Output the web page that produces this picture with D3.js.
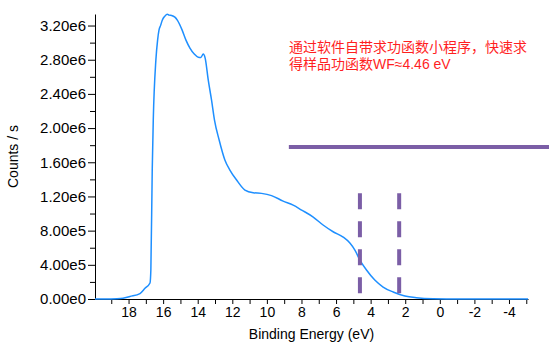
<!DOCTYPE html>
<html>
<head>
<meta charset="utf-8">
<script src="https://cdn.jsdelivr.net/npm/d3@7"></script>
<style>
  body { margin: 0; background: #fff; }
  svg { display: block; font-family: "Liberation Sans", Arial, sans-serif; }
  .axis path, .axis line { stroke: #000; stroke-width: 1; }
  .axis text { font-size: 14px; fill: #000; font-family: "Liberation Sans", Arial, sans-serif; }
  .yaxis text { font-size: 15px; }
  .note { font-size: 14px; fill: #ff1f1f; font-family: "Liberation Sans", "Noto Sans CJK SC", sans-serif; }
</style>
</head>
<body>
<svg width="549" height="345"></svg>
<script>
// spectrum: binding energy (eV) / counts per second
var energy = [19.94, 19.36, 18.67, 18.32, 17.92, 17.34, 17.05, 16.76, 16.71, 16.63,
  16.57, 16.42, 16.32, 16.24, 16.14, 16.05, 15.9, 15.76, 15.66, 15.51,
  15.32, 15.18, 14.9, 14.68, 14.45, 14.2, 13.97, 13.82, 13.68, 13.57,
  13.39, 13.2, 13.03, 12.76, 12.43, 12.14, 11.75, 11.27, 10.79, 10.31,
  9.73, 9.06, 8.48, 7.99, 7.32, 6.75, 6.17, 5.59, 5.2, 4.91,
  4.62, 4.24, 3.76, 3.28, 2.7, 2.02, 1.35, 0.39, -1.16, -5.1];
var counts = [0, 0, 2000, 8000, 29000, 64000, 125000, 187000, 339000, 1509000,
  2094000, 2795000, 3029000, 3146000, 3205000, 3263000, 3310000, 3333000, 3322000, 3318000,
  3298000, 3263000, 3146000, 3029000, 2936000, 2866000, 2830000, 2827000, 2866000, 2819000,
  2561000, 2327000, 2094000, 1860000, 1626000, 1509000, 1392000, 1275000, 1243000, 1236000,
  1210000, 1146000, 1099000, 1041000, 959000, 866000, 787000, 725000, 655000, 572000,
  456000, 339000, 222000, 140000, 82000, 35000, 15000, 3500, 0, 0];

// work-function markers
var baseLineX = [8.73, -6.4];
var baseLineY = 1.78e6;
var cutoffX = [4.62, 2.35];
var cutoffY = [1.236e6, 0.067e6];

var yTicks = [0, 4e5, 8e5, 1.2e6, 1.6e6, 2.0e6, 2.4e6, 2.8e6, 3.2e6];
var yMinor = d3.range(2e5, 3.3e6, 4e5);
var xTicks = [18, 16, 14, 12, 10, 8, 6, 4, 2, 0, -2, -4];
var xMinor = [19, 17, 15, 13, 11, 9, 7, 5, 3, 1, -1, -3, -5];

var noteLines = ["通过软件自带求功函数小程序，快速求", "得样品功函数WF≈4.46 eV"];

var svg = d3.select("svg");
var margin = {left: 95, right: 21, top: 14, bottom: 46};
var W = 549, H = 345;

var x = d3.scaleLinear().domain([19.94, -5.1]).range([margin.left, W - margin.right]);
var y = d3.scaleLinear().domain([0, 3.335e6]).range([H - margin.bottom, margin.top]);

var fmt = function(d) {
  if (d === 0) return "0.00e0";
  var e = Math.floor(Math.log10(d));
  return (d / Math.pow(10, e)).toFixed(2) + "e" + e;
};

// axes
svg.append("g").attr("class", "axis")
  .attr("transform", "translate(0," + y(0) + ")")
  .call(d3.axisBottom(x).tickValues(xTicks).tickSize(5).tickSizeOuter(0).tickPadding(3)
    .tickFormat(function(d) { return String(d); }));
svg.append("g").attr("class", "axis")
  .attr("transform", "translate(0," + y(0) + ")")
  .call(d3.axisBottom(x).tickValues(xMinor).tickSize(5).tickSizeOuter(0).tickFormat(""))
  .select(".domain").remove();

svg.append("g").attr("class", "axis yaxis")
  .attr("transform", "translate(" + margin.left + ",0)")
  .call(d3.axisLeft(y).tickValues(yTicks).tickSize(7).tickSizeOuter(0).tickPadding(2).tickFormat(fmt));
svg.append("g").attr("class", "axis")
  .attr("transform", "translate(" + margin.left + ",0)")
  .call(d3.axisLeft(y).tickValues(yMinor).tickSize(5).tickSizeOuter(0).tickFormat(""))
  .select(".domain").remove();

// axis titles
svg.append("text")
  .attr("x", (margin.left + W - margin.right) / 2)
  .attr("y", 339)
  .attr("text-anchor", "middle")
  .style("font-size", "14px")
  .text("Binding Energy (eV)");

svg.append("text")
  .attr("transform", "translate(18," + (y(0) + y.range()[1]) / 2 + ") rotate(-90)")
  .attr("text-anchor", "middle")
  .style("font-size", "14px")
  .text("Counts / s");

// spectrum
var pts = energy.map(function(e, i) { return [e, counts[i]]; });
svg.append("path")
  .datum(pts)
  .attr("fill", "none")
  .attr("stroke", "#1e8fff")
  .attr("stroke-width", 1.5)
  .attr("stroke-linejoin", "round")
  .attr("d", d3.line().curve(d3.curveMonotoneX)
    .x(function(d) { return x(d[0]); }).y(function(d) { return y(d[1]); }));

// markers
var purple = "#7b5ea6";
svg.append("line")
  .attr("x1", x(baseLineX[0])).attr("x2", x(baseLineX[1]))
  .attr("y1", y(baseLineY)).attr("y2", y(baseLineY))
  .attr("stroke", purple).attr("stroke-width", 4);

svg.selectAll("line.cutoff")
  .data(cutoffX)
  .enter().append("line")
  .attr("class", "cutoff")
  .attr("x1", function(d) { return x(d); }).attr("x2", function(d) { return x(d); })
  .attr("y1", y(cutoffY[0])).attr("y2", y(cutoffY[1]))
  .attr("stroke", purple).attr("stroke-width", 4)
  .attr("stroke-dasharray", "16,12");

// note
svg.selectAll("text.note")
  .data(noteLines)
  .enter().append("text")
  .attr("class", "note")
  .attr("x", 289)
  .attr("y", function(d, i) { return 52 + i * 17; })
  .text(function(d) { return d; });
</script>
</body>
</html>
